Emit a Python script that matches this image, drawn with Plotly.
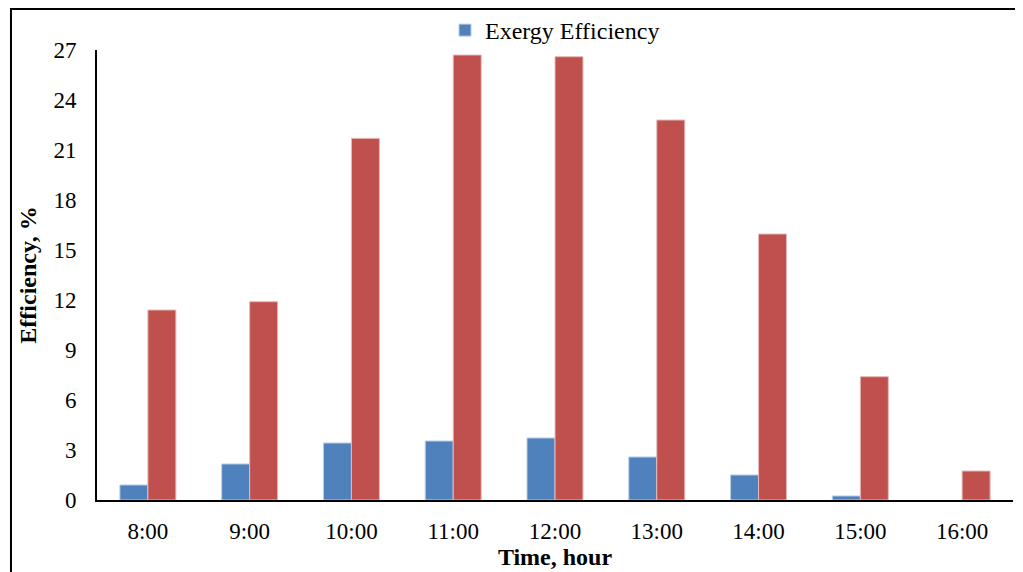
import plotly.graph_objects as go

hours = ["8:00", "9:00", "10:00", "11:00", "12:00", "13:00", "14:00", "15:00", "16:00"]
exergy = [0.9, 2.16, 3.42, 3.54, 3.72, 2.58, 1.5, 0.24, 0.0]
energy = [11.4, 11.9, 21.7, 26.7, 26.6, 22.8, 15.96, 7.4, 1.74]
y_ticks = [0, 3, 6, 9, 12, 15, 18, 21, 24, 27]

FONT = "Liberation Serif"

fig = go.Figure()
fig.add_trace(go.Bar(x=hours, y=exergy, name="Exergy Efficiency",
                     marker=dict(color="#4F81BD",
                                 line=dict(color="#B9CDE5",
                                           width=[1 if v > 0 else 0 for v in exergy]))))
fig.add_trace(go.Bar(x=hours, y=energy, name="Energy Efficiency", showlegend=False,
                     marker=dict(color="#C0504D", line=dict(color="#E6B9B8", width=1))))

fig.update_layout(
    width=1023, height=572,
    margin=dict(l=89, r=18, t=0, b=80),
    paper_bgcolor="white", plot_bgcolor="white",
    barmode="group", bargap=0.45, bargroupgap=0,
    font=dict(family=FONT, size=23, color="black"),
    showlegend=True,
    legend=dict(orientation="h", x=0.5, xanchor="center", y=1.0, yanchor="top",
                font=dict(family=FONT, size=24), itemwidth=30, bgcolor="rgba(0,0,0,0)"),
    xaxis=dict(showline=True, linecolor="black", linewidth=2, showgrid=False, automargin=False,
               ticks="", ticklabelstandoff=9, tickfont=dict(size=23),
               title=dict(text="<b>Time, hour</b>", font=dict(size=24), standoff=2)),
    yaxis=dict(range=[0, 27], domain=[0, 0.9146], tickvals=y_ticks, showline=True,
               linecolor="black", linewidth=2,
               showgrid=False, zeroline=False, ticks="", ticklabelstandoff=14, automargin=False,
               tickfont=dict(size=23),
               title=dict(text="<b>Efficiency, %</b>", font=dict(size=24), standoff=10)),
    shapes=[
        dict(type="rect", xref="paper", yref="paper", x0=-0.0939, x1=1.05, y0=-0.2, y1=0.998,
             line=dict(color="black", width=2), fillcolor="rgba(0,0,0,0)", layer="below"),
    ],
)

fig.write_html("out.html")
